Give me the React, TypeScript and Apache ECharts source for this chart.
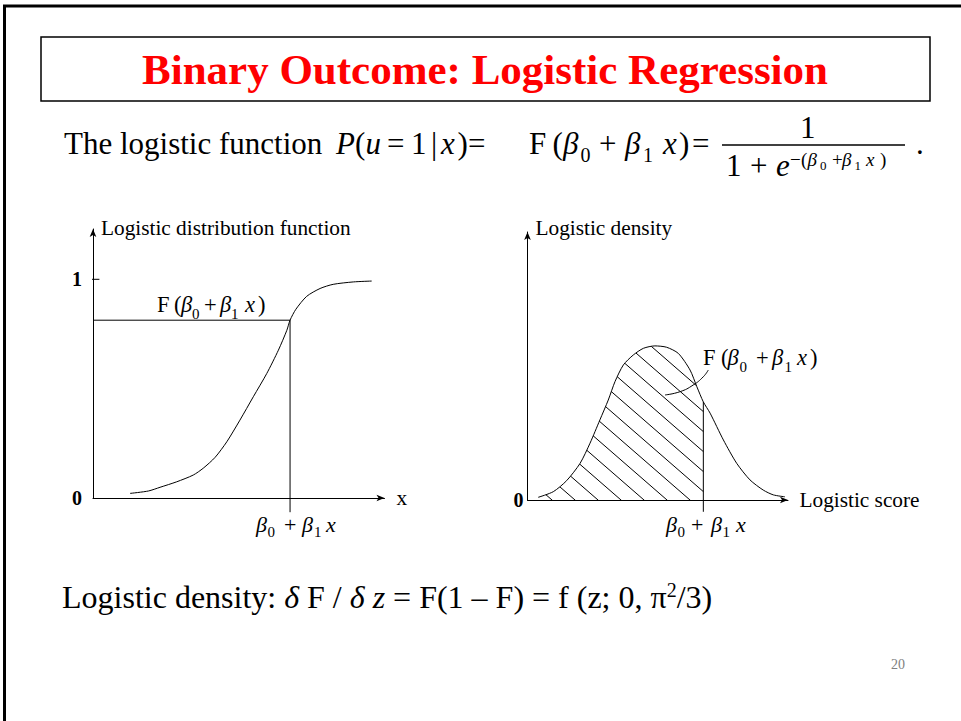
import React, { useEffect, useRef } from 'react';
import * as echarts from 'echarts';

const SERIF = '"Liberation Serif", "Times New Roman", Times, serif';

// Logistic distribution function (left panel): x runs 0–100 along the axis, F in 0–1
const cdfX = [12.7, 19.0, 23.0, 28.7, 34.4, 37.8, 41.9, 45.9, 50.4, 55.0, 59.6, 63.6, 66.5, 67.6, 69.6, 73.3, 77.9, 82.4, 89.3, 95.6];
const cdfY = [0.021, 0.032, 0.049, 0.074, 0.105, 0.136, 0.186, 0.257, 0.356, 0.463, 0.569, 0.676, 0.767, 0.813, 0.863, 0.922, 0.958, 0.977, 0.988, 0.992];
const cdfMarkX = 67.6;
const cdfMarkY = 0.813;
const cdfTickValues = [0, 1];

// Logistic density (right panel): logistic score 0–100, density in 0–1 of the axis height
const pdfX = [4.1, 9.9, 15.0, 20.2, 24.0, 27.8, 31.0, 33.6, 36.8, 40.6, 44.5, 48.9, 53.4, 57.9, 62.4, 65.0, 67.5, 70.1, 75.2, 80.3, 85.4, 90.5, 94.4, 98.8];
const pdfY = [0.010, 0.031, 0.072, 0.137, 0.212, 0.299, 0.373, 0.442, 0.504, 0.541, 0.566, 0.575, 0.570, 0.547, 0.485, 0.423, 0.366, 0.324, 0.224, 0.137, 0.075, 0.037, 0.019, 0.012];
const scoreCut = 67.5;
const pdfTickValues = [0];

// pointer from the label into the shaded area
const leaderX = [52.8, 58.5, 63.6, 67.5, 69.4];
const leaderY = [0.392, 0.404, 0.429, 0.460, 0.485];

type Run = [number, number, string, number, string?];
// text, size, flags, baseline shift
type Piece = [string, number, string?, number?];

// x, baseline, text, size, flags (i = italic, b = bold)
const formulaRuns: Run[] = [
  [64, 154, 'The logistic function', 31],
  [336, 154, 'P', 31, 'i'],
  [355, 154, '(', 31],
  [365.5, 154, 'u', 31, 'i'],
  [387, 154, '=', 31],
  [411, 154, '1', 31],
  [431, 154, '|', 31],
  [441, 154, 'x', 31, 'i'],
  [457.5, 154, ')', 31],
  [468, 154, '=', 31],
  [529, 154, 'F', 31],
  [552.5, 154, '(', 31],
  [563, 154, 'β', 31, 'i'],
  [580.5, 162, '0', 20],
  [599, 154, '+', 31],
  [625, 154, 'β', 31, 'i'],
  [643, 162, '1', 20],
  [663, 154, 'x', 31, 'i'],
  [679, 154, ')', 31],
  [692, 154, '=', 31],
  [800, 138, '1', 31],
  [726, 176, '1', 31],
  [750, 176, '+', 31],
  [776, 176, 'e', 31, 'i'],
  [790, 166, '−', 19],
  [801, 166, '(', 19],
  [807.5, 166, 'β', 19, 'i'],
  [820, 170, '0', 13],
  [832, 166, '+', 19],
  [842, 166, 'β', 19, 'i'],
  [854.5, 170, '1', 13],
  [866, 166, 'x', 19, 'i'],
  [880, 166, ')', 19],
  [916, 154, '.', 31],
];

const leftLabelRuns: Run[] = [
  [157, 312, 'F', 22.5], [174, 312, '(', 22.5], [181, 312, 'β', 22.5, 'i'], [192, 319, '0', 15],
  [204, 312, '+', 22.5], [220, 312, 'β', 22.5, 'i'], [231, 319, '1', 15], [245, 312, 'x', 22.5, 'i'], [258, 312, ')', 22.5],
  [256, 532, 'β', 22, 'i'], [267.5, 537, '0', 15], [284, 532, '+', 22], [302, 532, 'β', 22, 'i'],
  [314, 537, '1', 15], [326, 532, 'x', 22, 'i'],
];

const rightLabelRuns: Run[] = [
  [703, 365, 'F', 22.5], [721, 365, '(', 22.5], [727.5, 365, 'β', 22.5, 'i'], [739.5, 372, '0', 15],
  [756, 365, '+', 22.5], [772, 365, 'β', 22.5, 'i'], [784.5, 372, '1', 15], [797, 365, 'x', 22.5, 'i'], [810, 365, ')', 22.5],
  [666, 532, 'β', 22, 'i'], [677.5, 537, '0', 15], [691, 532, '+', 22], [711, 532, 'β', 22, 'i'],
  [722.5, 537, '1', 15], [736, 532, 'x', 22, 'i'],
];

// density identity written under the panels, laid out piece by piece
const densityLine: Piece[] = [
  ['Logistic density: ', 32],
  ['δ', 32, 'i'],
  [' F / ', 32],
  ['δ z', 32, 'i'],
  [' = F(1 – F) = f (z; 0, π', 32],
  ['2', 20, '', -11],
  ['/3)', 32],
];

const fontOf = (size: number, flags = '') =>
  `${flags.includes('i') ? 'italic ' : ''}${flags.includes('b') ? 'bold ' : ''}${size}px ${SERIF}`;

const runText = ([x, base, text, size, flags = '']: Run) => ({
  type: 'text',
  x,
  y: base - size * 0.34,
  silent: true,
  style: {
    text,
    fill: '#000',
    fontFamily: SERIF,
    fontSize: size,
    fontStyle: flags.includes('i') ? 'italic' : 'normal',
    fontWeight: flags.includes('b') ? 'bold' : 'normal',
    align: 'left',
    verticalAlign: 'middle',
  },
});

// place pieces one after another, advancing by their measured widths
function layoutLine(pieces: Piece[], x0: number, baseline: number): Run[] {
  const ctx = document.createElement('canvas').getContext('2d')!;
  let x = x0;
  return pieces.map(([text, size, flags = '', shift = 0]) => {
    const run: Run = [x, baseline + shift, text, size, flags];
    ctx.font = fontOf(size, flags);
    x += ctx.measureText(text).width;
    return run;
  });
}

function hatchTile(w: number, h: number) {
  const c = document.createElement('canvas');
  c.width = w;
  c.height = h;
  const g = c.getContext('2d')!;
  g.strokeStyle = '#000';
  g.lineWidth = 1;
  for (let k = -1; k <= 1; k++) {
    g.beginPath();
    g.moveTo(k * w - w, -h);
    g.lineTo(k * w + 2 * w, 2 * h);
    g.stroke();
  }
  return c;
}

const zip = (xs: number[], ys: number[]) => xs.map((x, i) => [x, ys[i]]);

export default function App() {
  const ref = useRef<HTMLDivElement>(null);

  useEffect(() => {
    if (!ref.current) return;
    const chart = echarts.init(ref.current, null, { renderer: 'svg' });

    const axisLine = {
      show: true,
      onZero: false,
      symbol: ['none', 'arrow'],
      symbolSize: [5, 8],
      lineStyle: { color: '#000', width: 1 },
    };
    const nameStyle = { color: '#000', fontFamily: SERIF, fontSize: 21.3 };
    const bareLine = { type: 'line', symbol: 'none', silent: true, lineStyle: { color: '#000', width: 1 } };

    const tileW = 23;
    const tileH = 20;
    const hatch = { image: hatchTile(tileW, tileH), repeat: 'repeat', imageWidth: tileW, imageHeight: tileH };

    const hatchedPart = zip(pdfX, pdfY).filter(([x]) => x <= scoreCut);
    const cutValue = pdfY[pdfX.indexOf(scoreCut)];

    const option: any = {
      animation: false,
      backgroundColor: '#fff',
      grid: [
        { left: 93, top: 229, width: 291.5, height: 269 },
        { left: 527.5, top: 232, width: 260.5, height: 268 },
      ],
      xAxis: [
        {
          gridIndex: 0, type: 'value', min: 0, max: 100,
          axisLine, axisTick: { show: false }, axisLabel: { show: false }, splitLine: { show: false },
          name: 'x', nameLocation: 'end', nameGap: 12, nameTextStyle: { ...nameStyle, verticalAlign: 'middle' },
        },
        {
          gridIndex: 1, type: 'value', min: 0, max: 100,
          axisLine, axisTick: { show: false }, axisLabel: { show: false }, splitLine: { show: false },
          name: 'Logistic score', nameLocation: 'end', nameGap: 11.5, nameTextStyle: { ...nameStyle, verticalAlign: 'middle' },
        },
      ],
      yAxis: [
        {
          gridIndex: 0, type: 'value', min: 0, max: 1.23,
          axisLine, axisTick: { show: false }, splitLine: { show: false },
          axisLabel: {
            customValues: cdfTickValues, color: '#000', fontFamily: SERIF, fontWeight: 'bold',
            fontSize: 20, margin: 11, padding: [5, 0, 0, 0],
          },
          name: 'Logistic distribution function', nameLocation: 'end', nameGap: 1,
          nameTextStyle: { ...nameStyle, align: 'left', verticalAlign: 'middle', padding: [0, 0, 0, 8] },
        },
        {
          gridIndex: 1, type: 'value', min: 0, max: 1,
          axisLine, axisTick: { show: false }, splitLine: { show: false },
          axisLabel: {
            customValues: pdfTickValues, color: '#000', fontFamily: SERIF, fontWeight: 'bold',
            fontSize: 20, margin: 4, padding: [5, 0, 0, 0],
          },
          name: 'Logistic density', nameLocation: 'end', nameGap: 4,
          nameTextStyle: { ...nameStyle, align: 'left', verticalAlign: 'middle', padding: [0, 0, 0, 8] },
        },
      ],
      series: [
        { ...bareLine, name: 'F', xAxisIndex: 0, yAxisIndex: 0, smooth: 0.25, data: zip(cdfX, cdfY) },
        { ...bareLine, xAxisIndex: 0, yAxisIndex: 0, data: [[0, cdfMarkY], [cdfMarkX, cdfMarkY]] },
        { ...bareLine, xAxisIndex: 0, yAxisIndex: 0, clip: false, data: [[cdfMarkX, cdfMarkY], [cdfMarkX, -0.065]] },
        { ...bareLine, xAxisIndex: 0, yAxisIndex: 0, clip: false, data: [[-1.6, 1], [2.2, 1]] },
        {
          ...bareLine, xAxisIndex: 1, yAxisIndex: 1, smooth: 0.25, data: hatchedPart,
          lineStyle: { width: 0 }, areaStyle: { color: hatch, opacity: 1 },
        },
        { ...bareLine, name: 'f', xAxisIndex: 1, yAxisIndex: 1, smooth: 0.25, data: zip(pdfX, pdfY) },
        { ...bareLine, xAxisIndex: 1, yAxisIndex: 1, clip: false, data: [[scoreCut, cutValue], [scoreCut, -0.044]] },
        { ...bareLine, xAxisIndex: 1, yAxisIndex: 1, smooth: true, data: zip(leaderX, leaderY) },
      ],
      graphic: [
        { type: 'line', silent: true, shape: { x1: 3, y1: 6, x2: 961, y2: 6 }, style: { stroke: '#000', lineWidth: 3 } },
        { type: 'line', silent: true, shape: { x1: 4.5, y1: 5, x2: 4.5, y2: 721 }, style: { stroke: '#000', lineWidth: 3 } },
        {
          type: 'rect', silent: true, shape: { x: 41, y: 37, width: 889, height: 64 },
          style: { fill: 'none', stroke: '#000', lineWidth: 1.5 },
        },
        {
          type: 'text', silent: true, x: 485, y: 84 - 43 * 0.34,
          style: {
            text: 'Binary Outcome: Logistic Regression', fill: '#ff0000', fontFamily: SERIF,
            fontSize: 43, fontWeight: 'bold', align: 'center', verticalAlign: 'middle',
          },
        },
        ...formulaRuns.map(runText),
        { type: 'line', silent: true, shape: { x1: 722, y1: 145, x2: 905, y2: 145 }, style: { stroke: '#000', lineWidth: 1.5 } },
        ...leftLabelRuns.map(runText),
        ...rightLabelRuns.map(runText),
        ...layoutLine(densityLine, 62, 608).map(runText),
        {
          type: 'text', silent: true, x: 898, y: 664,
          style: { text: '20', fill: '#808080', fontFamily: SERIF, fontSize: 14, align: 'center', verticalAlign: 'middle' },
        },
      ],
    };

    chart.setOption(option);
    return () => chart.dispose();
  }, []);

  return (
    <div
      ref={ref}
      style={{ position: 'fixed', left: 0, top: 0, width: 961, height: 721, background: '#fff' }}
    />
  );
}
